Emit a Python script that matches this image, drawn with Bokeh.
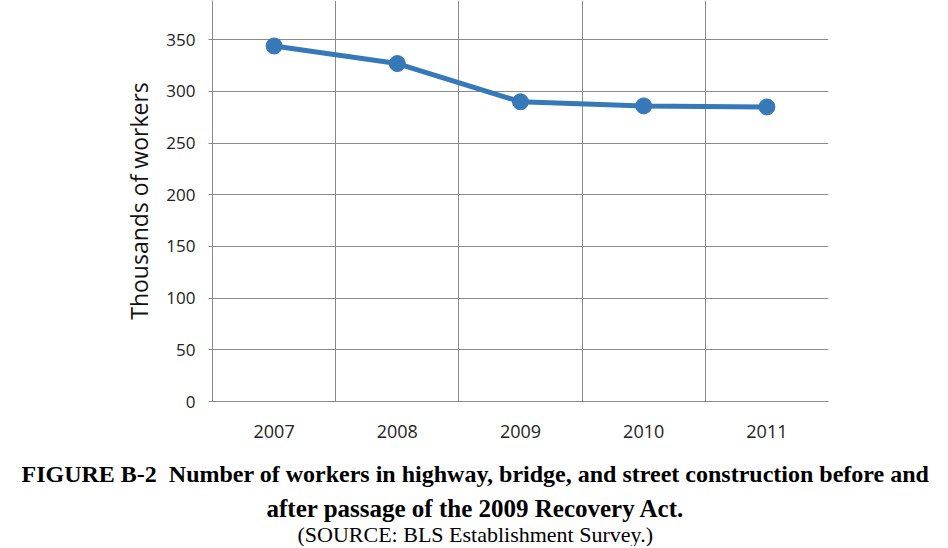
from bokeh.plotting import figure
from bokeh.models import FixedTicker, ColumnDataSource, Range1d, Title
from bokeh.embed import file_html
from bokeh.resources import INLINE

years = ["2007", "2008", "2009", "2010", "2011"]
workers = [344, 327, 290, 286, 285]
y_ticks = [0, 50, 100, 150, 200, 250, 300, 350, 400]

caption1 = "FIGURE B-2\u00a0\u00a0Number of workers in highway, bridge, and street construction before and"
caption2 = "after passage of the 2009 Recovery Act."
caption3 = "(SOURCE: BLS Establishment Survey.)"

xs = [i + 1 for i in range(len(years))]
src = ColumnDataSource(dict(x=xs, y=workers))

W = 940
H = 546
p = figure(width=W, height=H, output_backend="svg", toolbar_location=None,
           x_range=Range1d(0.5, len(years) + 0.5), y_range=Range1d(0, 388),
           min_border_left=212, min_border_right=112, min_border_top=0,
           min_border_bottom=H - 401)
p.outline_line_color = None

color = "#3679b8"
p.line("x", "y", source=src, line_width=5, line_color=color)
p.scatter("x", "y", source=src, size=16, fill_color=color, line_color=color)

grid_col = "#8a8a8a"
p.xgrid.ticker = FixedTicker(ticks=[i + 0.5 for i in range(len(years) + 1)])
p.xgrid.grid_line_color = grid_col
p.ygrid.ticker = FixedTicker(ticks=y_ticks)
p.ygrid.grid_line_color = grid_col

p.xaxis.ticker = FixedTicker(ticks=xs)
p.xaxis.major_label_overrides = {x: y for x, y in zip(xs, years)}
p.xaxis.major_tick_line_color = None
p.xaxis.minor_tick_line_color = None
p.xaxis.axis_line_color = grid_col
p.xaxis.major_label_standoff = 17
p.xaxis.major_label_text_font = "Open Sans"
p.xaxis.major_label_text_font_size = "18px"
p.xaxis.major_label_text_color = "#222222"

p.yaxis.ticker = FixedTicker(ticks=y_ticks)
p.yaxis.major_tick_out = 4
p.yaxis.major_tick_in = 0
p.yaxis.major_tick_line_color = grid_col
p.yaxis.minor_tick_line_color = None
p.yaxis.axis_line_color = grid_col
p.yaxis.major_label_standoff = 13
p.yaxis.major_label_text_font = "Open Sans"
p.yaxis.major_label_text_font_size = "17px"
p.yaxis.major_label_text_color = "#222222"
p.yaxis.axis_label = "Thousands of workers"
p.yaxis.axis_label_text_font = "Open Sans"
p.yaxis.axis_label_text_font_size = "23px"
p.yaxis.axis_label_text_font_style = "normal"
p.yaxis.axis_label_text_color = "#111111"
p.yaxis.axis_label_standoff = 8

# small blank spacer between the year labels and the caption
p.add_layout(Title(text=" ", text_font_size="1px", standoff=9), "below")

# caption: left-aligned titles shifted (offset from frame left) so that each is centred near x=474
for txt, size, style, off, sb in [(caption1, "24px", "bold", -191, 12),
                                  (caption2, "25px", "bold", 54, 0),
                                  (caption3, "22px", "normal", 85, -4)]:
    p.add_layout(Title(text=txt, align="left", offset=off, text_font="Liberation Serif",
                       text_font_size=size, text_font_style=style, text_color="black",
                       standoff=sb), "below")

open("out.html", "w").write(file_html(p, INLINE))
